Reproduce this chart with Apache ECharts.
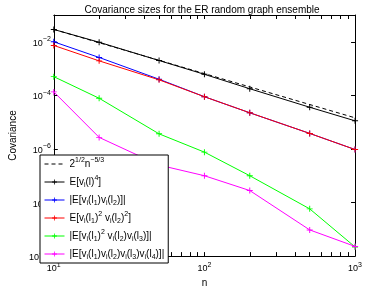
<!DOCTYPE html>
<html>
<head>
<meta charset="utf-8">
<script src="https://cdn.jsdelivr.net/npm/echarts@6/dist/echarts.min.js"></script>
<style>
  html, body { margin: 0; padding: 0; background: #fff; }
  #chart { width: 365px; height: 293px; }
</style>
</head>
<body>
<div id="chart"></div>
<script>
// sample sizes n
var nValues = [10, 20, 50, 100, 200, 500, 1000];
// reference line 2^(1/2) n^(-5/3), end points
var refN = [10, 1000];
var refVals = [0.029, 1.45e-5];
// covariance estimates
var fourthMoment = [0.0288, 0.0096, 0.0020, 6.1e-4, 1.77e-4, 3.6e-5, 1.12e-5];
var pairCov = [0.0100, 2.6e-3, 4.0e-4, 8.9e-5, 2.24e-5, 3.8e-6, 9.5e-7];
var squareCov = [7.3e-3, 1.94e-3, 3.8e-4, 8.9e-5, 2.24e-5, 3.8e-6, 9.5e-7];
var tripleCov = [5.0e-4, 7.8e-5, 3.66e-6, 7.6e-7, 1.0e-7, 5.8e-9, 2.2e-10];
var quadCov = [1.35e-4, 2.7e-6, 2.5e-7, 1.0e-7, 2.8e-8, 9.5e-10, 2.3e-10];

var seriesNames = ['ref', 'e4', 'e12', 'e1s2s', 'e1s23', 'e1234'];
var legendText = {
  ref: '2{sup|1/2}n{sup|−5/3}',
  e4: 'E[v{sub|i}(l){sup|4}]',
  e12: '|E[v{sub|i}(l{sub|1})v{sub|i}(l{sub|2})]|',
  e1s2s: 'E[v{sub|i}(l{sub|1}){sup|2} v{sub|i}(l{sub|2}){sup|2}]',
  e1s23: '|E[v{sub|i}(l{sub|1}){sup|2} v{sub|i}(l{sub|2})v{sub|i}(l{sub|3})]|',
  e1234: '|E[v{sub|i}(l{sub|1})v{sub|i}(l{sub|2})v{sub|i}(l{sub|3})v{sub|i}(l{sub|4})]|'
};

var xTicks = [10, 20, 30, 40, 50, 60, 70, 80, 90, 100, 200, 300, 400, 500, 600, 700, 800, 900, 1000];
var xLabels = [10, 100, 1000];
var yTicks = [1e-10, 1e-8, 1e-6, 1e-4, 1e-2];

function pairs(xs, ys) {
  return xs.map(function (x, i) { return [x, ys[i]]; });
}

// thin '+' marker
var plus = 'path://M4.2,0H5.8V4.2H10V5.8H5.8V10H4.2V5.8H0V4.2H4.2Z';
var font = 'Liberation Sans';

function expLabel(v) {
  var e = Math.round(Math.log10(v));
  return '{b|10}{sup|' + (e < 0 ? '−' + (-e) : e) + '}';
}

var labelRich = {
  b: { fontSize: 9, fontFamily: font, color: '#000', lineHeight: 12, verticalAlign: 'bottom' },
  sup: { fontSize: 7, fontFamily: font, color: '#000', lineHeight: 6, verticalAlign: 'top' }
};

function lineSeries(name, data, color) {
  return {
    name: name,
    type: 'line',
    data: data,
    symbol: plus,
    symbolSize: 6,
    showSymbol: true,
    lineStyle: { color: color, width: 1 },
    itemStyle: { color: color, borderWidth: 0 },
    emphasis: { disabled: true },
    animation: false
  };
}

var chart = echarts.init(document.getElementById('chart'), null, { renderer: 'canvas' });

var frameLine = { show: true, onZero: false, lineStyle: { color: '#000', width: 1 } };

var option = {
  animation: false,
  title: {
    text: 'Covariance sizes for the ER random graph ensemble',
    left: 197,
    textAlign: 'center',
    top: 0,
    textStyle: { fontSize: 10, fontWeight: 'normal', fontFamily: font, color: '#000' }
  },
  grid: { left: 38, right: 8, top: 15, bottom: 27, containLabel: false },
  legend: {
    orient: 'vertical',
    left: 40,
    top: 155,
    data: seriesNames.map(function (s) {
      return s === 'ref' ? { name: s, itemStyle: { opacity: 0 } } : { name: s };
    }),
    backgroundColor: '#fff',
    borderColor: '#000',
    borderWidth: 1,
    padding: [2, 4, 2, 4],
    itemGap: 4,
    itemWidth: 20,
    itemHeight: 6,
    lineStyle: { width: 1 },
    formatter: function (name) { return legendText[name]; },
    textStyle: {
      fontSize: 10,
      fontFamily: font,
      color: '#000',
      lineHeight: 14,
      rich: {
        sub: { fontSize: 7, fontFamily: font, color: '#000', lineHeight: 6, verticalAlign: 'bottom' },
        sup: { fontSize: 7, fontFamily: font, color: '#000', lineHeight: 6, verticalAlign: 'top' }
      }
    },
    selectedMode: false
  },
  xAxis: [
    {
      type: 'log',
      logBase: 10,
      min: 10,
      max: 1000,
      position: 'bottom',
      name: 'n',
      nameLocation: 'middle',
      nameGap: 16,
      nameTextStyle: { fontSize: 10, fontFamily: font, color: '#000' },
      axisLine: frameLine,
      axisTick: { show: true, inside: true, length: 4, customValues: xTicks, lineStyle: { color: '#000' } },
      axisLabel: { show: true, margin: 5, customValues: xLabels, formatter: expLabel, rich: labelRich },
      splitLine: { show: false }
    },
    {
      type: 'log',
      logBase: 10,
      min: 10,
      max: 1000,
      position: 'top',
      axisLine: frameLine,
      axisTick: { show: true, inside: true, length: 4, customValues: xTicks, lineStyle: { color: '#000' } },
      axisLabel: { show: false },
      splitLine: { show: false }
    }
  ],
  yAxis: [
    {
      type: 'log',
      logBase: 10,
      min: 1e-10,
      max: 1e-1,
      position: 'left',
      name: 'Covariance',
      nameLocation: 'middle',
      nameGap: 25,
      nameRotate: 90,
      nameTextStyle: { fontSize: 10, fontFamily: font, color: '#000' },
      axisLine: frameLine,
      axisTick: { show: true, inside: true, length: 4, customValues: yTicks, lineStyle: { color: '#000' } },
      axisLabel: { show: true, margin: 3, customValues: yTicks, formatter: expLabel, rich: labelRich },
      splitLine: { show: false }
    },
    {
      type: 'log',
      logBase: 10,
      min: 1e-10,
      max: 1e-1,
      position: 'right',
      axisLine: frameLine,
      axisTick: { show: true, inside: true, length: 4, customValues: yTicks, lineStyle: { color: '#000' } },
      axisLabel: { show: false },
      splitLine: { show: false }
    }
  ],
  series: [
    {
      name: 'ref',
      type: 'line',
      data: pairs(refN, refVals),
      symbol: 'none',
      lineStyle: { color: '#000', width: 1, type: [4, 3] },
      itemStyle: { color: '#000' },
      emphasis: { disabled: true },
      animation: false
    },
    lineSeries('e4', pairs(nValues, fourthMoment), '#000000'),
    lineSeries('e12', pairs(nValues, pairCov), '#0000ff'),
    lineSeries('e1s2s', pairs(nValues, squareCov), '#ff0000'),
    lineSeries('e1s23', pairs(nValues, tripleCov), '#00ff00'),
    lineSeries('e1234', pairs(nValues, quadCov), '#ff00ff')
  ]
};

chart.setOption(option);
</script>
</body>
</html>
